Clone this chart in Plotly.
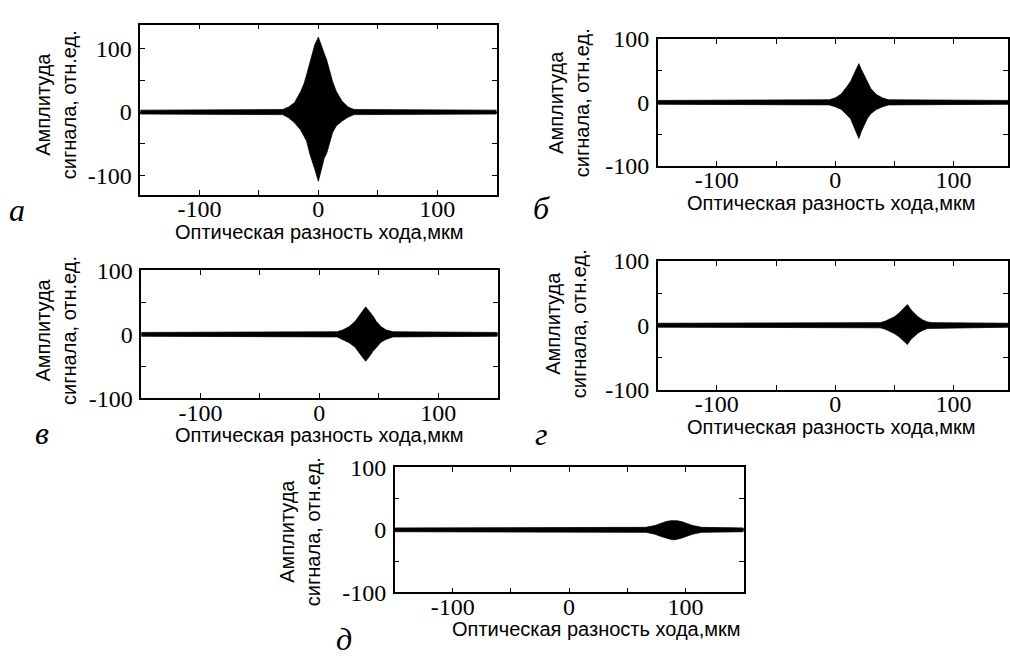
import plotly.graph_objects as go

W, H = 1010, 661

# ---- envelope data (x in мкм, amplitude in отн.ед.) ----
X_A  = [-150, -30, -25, -20, -15, -12, -10, -7, -5, -3, 0, 3, 5, 7, 10, 12, 15, 20, 25, 30, 150]
UP_A = [3, 4, 8, 15, 32, 45, 58, 80, 95, 106, 118, 104, 92, 82, 60, 48, 33, 17, 8, 4, 3]
LO_A = [-3, -4, -9, -17, -28, -38, -45, -67, -78, -90, -109, -88, -72, -65, -45, -32, -22, -14, -8, -4, -3]

X_B  = [-150, -5, 0, 5, 10, 13, 16, 18, 20, 22, 24, 27, 30, 35, 40, 45, 150]
UP_B = [3, 4, 7, 13, 25, 33, 45, 53, 61, 52, 45, 32, 22, 12, 7, 4, 3]
LO_B = [-3, -4, -7, -11, -20, -26, -40, -48, -57, -46, -38, -26, -18, -11, -7, -4, -3]

X_V  = [-150, 15, 20, 25, 30, 33, 36, 39, 42, 45, 48, 52, 56, 62, 150]
UP_V = [3, 4, 7, 12, 20, 28, 36, 43, 36, 29, 20, 12, 7, 4, 3]
LO_V = [-3, -4, -8, -13, -20, -27, -35, -42, -35, -27, -20, -12, -8, -4, -3]

X_G  = [-150, 38, 42, 46, 50, 54, 57, 61, 64, 67, 70, 74, 78, 82, 150]
UP_G = [3, 4, 6, 9, 13, 19, 25, 32, 24, 18, 13, 8, 5, 4, 3]
LO_G = [-3, -4, -6, -9, -13, -18, -23, -30, -22, -17, -12, -8, -5, -4, -3]

X_D  = [-150, 66, 74, 78, 83, 87, 90, 93, 97, 102, 106, 114, 150]
UP_D = [3, 4, 7, 10, 13, 14.5, 15, 14.5, 13, 10, 7, 4, 3]
LO_D = [-3, -4, -7, -10, -13, -15, -16, -15, -13, -10, -7, -4, -3]

TICK_VALS = [-100, -50, 0, 50, 100]
TICK_TEXT = ["-100", "", "0", "", "100"]
LETTERS = ["а", "б", "в", "г", "д"]
X_TITLE = "Оптическая разность хода,мкм"
Y_TITLE = "Амплитуда<br>сигнала, отн.ед."

# ---- layout geometry (pixels) ----
panels = [
    dict(x=X_A, up=UP_A, lo=LO_A, px=(140.5, 497.5), py=(12, 189), xr=[-150, 150], yr=[-130, 138],
         let=(17, 205), yt=(56, 95), xt=(320, 228)),
    dict(x=X_B, up=UP_B, lo=LO_B, px=(659, 1010), py=(27, 159), xr=[-150, 146], yr=[-100, 100],
         let=(543, 203), yt=(570, 93), xt=(833, 198)),
    dict(x=X_V, up=UP_V, lo=LO_V, px=(141.5, 498.5), py=(268, 401), xr=[-150, 150], yr=[-100, 100],
         let=(42, 437), yt=(56, 330), xt=(320, 439)),
    dict(x=X_G, up=UP_G, lo=LO_G, px=(659, 1010), py=(258, 392), xr=[-150, 146], yr=[-100, 100],
         let=(542, 438), yt=(567, 323), xt=(833, 431)),
    dict(x=X_D, up=UP_D, lo=LO_D, px=(395.5, 745), py=(473, 603), xr=[-150, 150], yr=[-100, 100],
         let=(345, 652), yt=(300, 540), xt=(598, 641)),
]

SERIF = "Liberation Serif, Times New Roman, serif"
SANS = "Liberation Sans, Arial, sans-serif"

fig = go.Figure()
annotations = []
layout_axes = {}
for i, p in enumerate(panels):
    n = "" if i == 0 else str(i + 1)
    xa, ya = "x" + n, "y" + n
    xs = list(p["x"]) + list(reversed(p["x"]))
    ys = list(p["up"]) + list(reversed(p["lo"]))
    fig.add_trace(go.Scatter(x=xs, y=ys, xaxis=xa, yaxis=ya, mode="lines",
                             fill="toself", fillcolor="black",
                             line=dict(color="black", width=0.8), hoverinfo="skip",
                             showlegend=False))
    common = dict(showgrid=False, zeroline=False, showline=True, linecolor="black",
                  linewidth=1.5, mirror="ticks", ticks="inside", ticklen=5, tickwidth=1,
                  tickcolor="black", tickvals=TICK_VALS, ticktext=TICK_TEXT,
                  tickfont=dict(family=SERIF, size=24, color="black"))
    layout_axes["xaxis" + n] = dict(common, domain=[p["px"][0] / W, p["px"][1] / W],
                                    range=p["xr"], anchor=ya, ticklabelstandoff=-8)
    layout_axes["yaxis" + n] = dict(common, domain=[1 - p["py"][1] / H, 1 - p["py"][0] / H],
                                    range=p["yr"], anchor=xa, ticklabelstandoff=2)
    annotations.append(dict(text=LETTERS[i], x=p["let"][0] / W, y=1 - p["let"][1] / H,
                            xref="paper", yref="paper", showarrow=False,
                            xanchor="center", yanchor="middle",
                            font=dict(family=SERIF, size=32, color="black", style="italic")))
    annotations.append(dict(text=Y_TITLE, x=p["yt"][0] / W, y=1 - p["yt"][1] / H,
                            xref="paper", yref="paper", showarrow=False, textangle=-90,
                            xanchor="center", yanchor="middle",
                            font=dict(family=SANS, size=20, color="black")))
    annotations.append(dict(text=X_TITLE, x=p["xt"][0] / W, y=1 - p["xt"][1] / H,
                            xref="paper", yref="paper", showarrow=False,
                            xanchor="center", yanchor="middle",
                            font=dict(family=SANS, size=20, color="black")))

fig.update_layout(width=W, height=H, margin=dict(l=0, r=0, t=0, b=0),
                  paper_bgcolor="white", plot_bgcolor="white",
                  annotations=annotations, **layout_axes)

fig.write_html("out.html")
